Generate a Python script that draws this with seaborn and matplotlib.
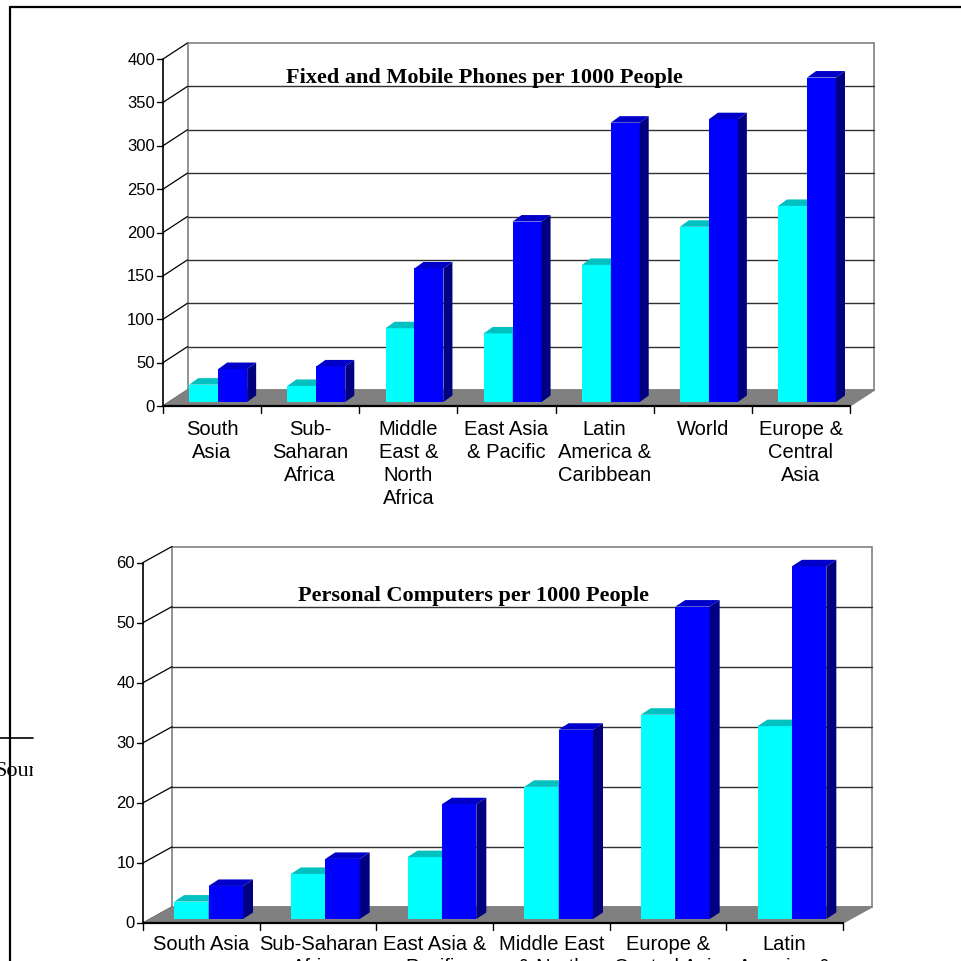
import numpy as np
import pandas as pd
import seaborn as sns
import matplotlib
matplotlib.use("Agg")
import matplotlib.pyplot as plt
from matplotlib.patches import Polygon, Rectangle
from matplotlib.lines import Line2D
from matplotlib.transforms import Bbox

# ---- data -------------------------------------------------------------
phone_regions = ["South Asia", "Sub-Saharan Africa", "Middle East & North Africa",
                 "East Asia & Pacific", "Latin America & Caribbean", "World",
                 "Europe & Central Asia"]
phone_labels = ["South\nAsia", "Sub-\nSaharan\nAfrica", "Middle\nEast &\nNorth\nAfrica",
                "East Asia\n& Pacific", "Latin\nAmerica &\nCaribbean", "World",
                "Europe &\nCentral\nAsia"]
phones_earlier = [20, 18.5, 85, 79, 158, 202, 226]
phones_later = [38, 41, 154, 208, 322, 326, 374]
phone_ticks = [0, 50, 100, 150, 200, 250, 300, 350, 400]

pc_regions = ["South Asia", "Sub-Saharan Africa", "East Asia & Pacific",
              "Middle East & North Africa", "Europe & Central Asia",
              "Latin America & Caribbean"]
pc_labels = ["South Asia", "Sub-Saharan\nAfrica", "East Asia &\nPacific",
             "Middle East\n& North\nAfrica", "Europe &\nCentral Asia",
             "Latin\nAmerica &\nCaribbean"]
pc_earlier = [2.9, 7.5, 10.3, 22, 34, 32.1]
pc_later = [5.5, 10, 19.1, 31.5, 52, 58.7]
pc_ticks = [0, 10, 20, 30, 40, 50, 60]

periods = ["earlier", "later"]

# ---- styling ----------------------------------------------------------
W = H = 962
DPI = 100
CYAN, CYAN_TOP, CYAN_SIDE = "#00FFFF", "#00C0C0", "#008080"
BLUE, BLUE_TOP, BLUE_SIDE = "#0000FF", "#0000C8", "#000080"
FLOOR = "#808080"
WALL_EDGE = "#808080"
GRID = "#303030"
SANS = ["Liberation Sans", "DejaVu Sans"]
SERIF = ["Liberation Serif", "DejaVu Serif"]

sns.set_theme(style="white")
plt.rcParams["font.family"] = SANS

fig = plt.figure(figsize=(W / DPI, H / DPI), dpi=DPI)
fig.patch.set_facecolor("white")


def draw_panel(box, regions, labels, earlier, later, ticks, title, title_xy,
               wall_px, bar_px, label_top):
    """box = (left, top, right, base) in pixels; base is the front zero line."""
    x0, ytop, x1, ybase = box
    ax = fig.add_axes([x0 / W, 1 - ybase / H, (x1 - x0) / W, (ybase - ytop) / H])
    n = len(regions)
    ymax = ticks[-1]
    df = pd.DataFrame({
        "region": regions * 2,
        "period": [periods[0]] * n + [periods[1]] * n,
        "value": list(earlier) + list(later),
    })
    sns.barplot(data=df, x="region", y="value", hue="period", order=regions,
                hue_order=periods, palette=[CYAN, BLUE], saturation=1,
                width=0.59, linewidth=0, errorbar=None, legend=False, ax=ax)
    bars = list(ax.patches)
    ax.set_xlim(-0.5, n - 0.5)
    ax.set_ylim(0, ymax)
    ax.set_axis_off()

    # data units per pixel
    sx = n / (x1 - x0)
    sy = ymax / (ybase - ytop)
    wdx, wdy = wall_px[0] * sx, wall_px[1] * sy
    bdx, bdy = bar_px[0] * sx, bar_px[1] * sy
    shift = 0.25
    L, R = -0.5, n - 0.5

    # back wall and its gridlines
    ax.add_patch(Rectangle((L + wdx, wdy), n, ymax, facecolor="white",
                           edgecolor=WALL_EDGE, lw=1.2, zorder=0.5, clip_on=False))
    for v in ticks[1:-1]:
        ax.plot([L + wdx, R + wdx], [v + wdy, v + wdy], color=GRID, lw=1.0,
                zorder=0.6, clip_on=False)
    # floor
    ax.add_patch(Polygon([(L, 0), (R, 0), (R + wdx, wdy), (L + wdx, wdy)],
                         closed=True, facecolor=FLOOR, edgecolor=FLOOR, lw=1,
                         zorder=1, clip_on=False))
    # side-wall connectors from the front ticks to the back wall
    for v in ticks:
        ax.plot([L, L + wdx], [v, v + wdy], color="black", lw=0.9,
                zorder=0.7, clip_on=False)
    # front value axis
    ax.plot([L, L], [0, ymax], color="black", lw=1.2, zorder=2, clip_on=False)
    for v in ticks:
        ax.plot([L - 6 * sx, L], [v, v], color="black", lw=1.0, zorder=2,
                clip_on=False)
        ax.text(L - 8 * sx, v, f"{v:g}", ha="right", va="center",
                fontsize=12, family=SANS, color="black")
    # front category axis
    ax.plot([L, R], [0, 0], color="black", lw=1.6, zorder=2, clip_on=False)
    for b in np.arange(L, R + 0.01, 1.0):
        ax.plot([b, b], [0, -7 * sy], color="black", lw=1.0, zorder=2,
                clip_on=False)
    for i, lab in enumerate(labels):
        ax.text(i, -(label_top - ybase) * sy, lab, ha="center",
                va="top", fontsize=14.5, family=SANS, linespacing=1.27,
                color="black")

    # bars: push into the depth, then add tops and right faces
    faces = [(CYAN_TOP, CYAN_SIDE), (BLUE_TOP, BLUE_SIDE)]
    for k, p in enumerate(bars):
        h_idx = k // n
        p.set_x(p.get_x() + shift * wdx)
        p.set_y(p.get_y() + shift * wdy)
        z = 3 + 0.2 * h_idx
        p.set_zorder(z)
        xa, w = p.get_x(), p.get_width()
        ya, hgt = p.get_y(), p.get_height()
        xb, yb = xa + w, ya + hgt
        top_c, side_c = faces[h_idx]
        ax.add_patch(Polygon([(xb, ya), (xb + bdx, ya + bdy), (xb + bdx, yb + bdy), (xb, yb)],
                             closed=True, facecolor=side_c, edgecolor="none",
                             zorder=z + 0.05, clip_on=False))
        ax.add_patch(Polygon([(xa, yb), (xb, yb), (xb + bdx, yb + bdy), (xa + bdx, yb + bdy)],
                             closed=True, facecolor=top_c, edgecolor="none",
                             zorder=z + 0.05, clip_on=False))

    fig.text(title_xy[0] / W, 1 - title_xy[1] / H, title, ha="center",
             va="baseline", fontsize=16, fontweight="bold", family=SERIF,
             color="black")
    return ax


draw_panel((163, 60, 850, 407), phone_regions, phone_labels, phones_earlier,
           phones_later, phone_ticks, "Fixed and Mobile Phones per 1000 People",
           (484, 83), (24.5, 16), (9, 6.5), 420)

draw_panel((143, 563.5, 843, 924), pc_regions, pc_labels, pc_earlier, pc_later,
           pc_ticks, "Personal Computers per 1000 People", (474, 601.5),
           (29, 16), (10, 6.5), 935)

# page frame around the embedded charts
fig.add_artist(Line2D([10 / W, 1.0], [1 - 8 / H, 1 - 8 / H], color="black", lw=1.6))
fig.add_artist(Line2D([10 / W, 10 / W], [1 - 8 / H, 0], color="black", lw=1.6))
# text of the page peeking out at the left edge
fig.add_artist(Line2D([0, 33 / W], [1 - 739 / H, 1 - 739 / H], color="black", lw=1.2))
src = fig.text(-6 / W, 1 - 776 / H, "Source", ha="left", va="baseline",
               fontsize=16, family=SERIF, color="black")
src.set_clip_box(Bbox([[0, 0], [33, H]]))
src.set_clip_on(True)

fig.savefig("out.png", dpi=DPI, facecolor="white")
